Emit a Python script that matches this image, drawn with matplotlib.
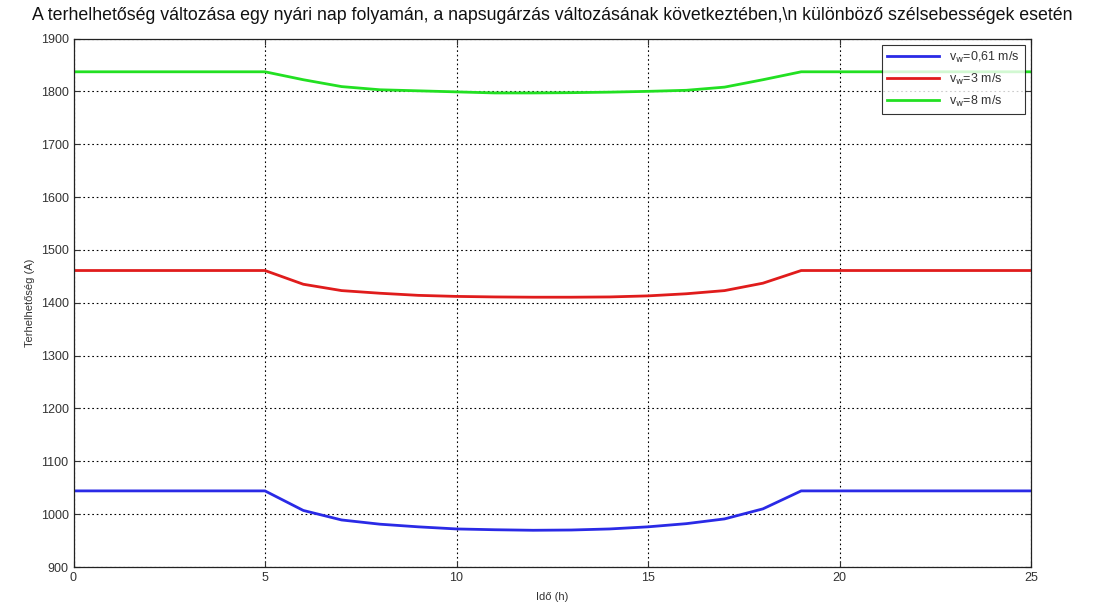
import numpy as np
import matplotlib.pyplot as plt

plt.rcParams["font.family"] = ["Liberation Sans", "DejaVu Sans"]

# Hourly load capacity over a summer day for three wind speeds
hours = list(range(0, 26))
cap_w061 = [1044, 1044, 1044, 1044, 1044, 1044, 1007, 989, 981, 976, 972, 970.5, 969.5,
            970, 972, 976, 982, 991, 1010, 1044, 1044, 1044, 1044, 1044, 1044, 1044]
cap_w3 = [1461, 1461, 1461, 1461, 1461, 1461, 1435, 1423, 1418, 1414, 1412, 1411, 1410.5,
          1410.5, 1411, 1413, 1417, 1423, 1437, 1461, 1461, 1461, 1461, 1461, 1461, 1461]
cap_w8 = [1837, 1837, 1837, 1837, 1837, 1837, 1822, 1809, 1803, 1801, 1799, 1797, 1797,
          1797.5, 1798.5, 1800, 1802, 1808, 1822, 1837, 1837, 1837, 1837, 1837, 1837, 1837]
labels = [r"v$_{\mathrm{w}}$=0,61 m/s", r"v$_{\mathrm{w}}$=3 m/s", r"v$_{\mathrm{w}}$=8 m/s"]

fig = plt.figure(figsize=(11.04, 6.08), dpi=100)
ax = fig.add_axes([73.5 / 1104, 1 - 567 / 608, (1031 - 73.5) / 1104, (567 - 38.5) / 608])

ax.plot(hours, cap_w061, color="#2a2ae6", lw=2, label=labels[0])
ax.plot(hours, cap_w3, color="#e01c1c", lw=2, label=labels[1])
ax.plot(hours, cap_w8, color="#22e022", lw=2, label=labels[2])

ax.set_xlim(0, 25)
ax.set_ylim(900, 1900)
ax.set_xticks(range(0, 26, 5))
ax.set_yticks(range(900, 1901, 100))
ax.grid(True, color="black", linestyle=(0, (1.5, 2.5)), linewidth=0.8)
ax.tick_params(direction="in", top=True, right=True, labelsize=9, colors="#333333",
               length=4, width=0.8)
for s in ax.spines.values():
    s.set_linewidth(0.9)
    s.set_color("#222222")

ax.set_xlabel("Idő (h)", fontsize=8, color="#333333", labelpad=6)
ax.set_ylabel("Terhelhetőség (A)", fontsize=8, color="#333333", labelpad=4)
ax.set_title("A terhelhetőség változása egy nyári nap folyamán, a napsugárzás változásának "
             "következtében,\\n különböző szélsebességek esetén",
             fontsize=12.8, color="#111111", pad=13)

leg = ax.legend(loc="upper right", fontsize=9, frameon=True, fancybox=False,
                edgecolor="black", handlelength=4.2, borderaxespad=0.5,
                labelspacing=0.55)
leg.get_frame().set_linewidth(0.8)
for t in leg.get_texts():
    t.set_color("#333333")

fig.savefig("out.png", dpi=100)
